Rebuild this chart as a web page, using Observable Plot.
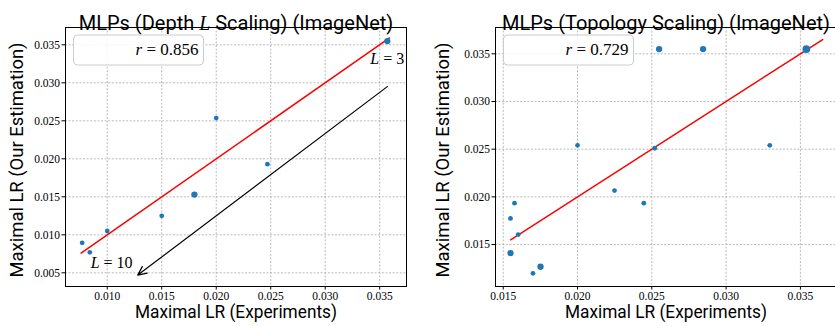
<!DOCTYPE html>
<html><head><meta charset="utf-8">
<script src="https://cdn.jsdelivr.net/npm/d3@7"></script>
<script src="https://cdn.jsdelivr.net/npm/@observablehq/plot@0.6"></script>
<style>
body{margin:0;background:#fff;}
#wrap{position:relative;width:835px;height:326px;overflow:hidden;background:#fff;}
#wrap svg{position:absolute;top:0;overflow:visible;}
</style></head><body><div id="wrap"></div>
<script>
// ---- Depth L scaling panel ----
const depthExp = [0.0077, 0.0084, 0.0100, 0.0150, 0.0180, 0.0200, 0.0247, 0.0357];
const depthEst = [0.00895, 0.0077, 0.0105, 0.0125, 0.0153, 0.02536, 0.0193, 0.0355];
const depthCount = [1, 1, 1, 1, 2, 1, 1, 2];
const depthFitX = [0.0076, 0.0359];
const depthArrowFrom = [0.0357, 0.0295];
const depthArrowTo = [0.0128, 0.0047];
const depthNotes = [{x: 0.0357, y: 0.0332, t: "*L* = 3"}, {x: 0.0104, y: 0.0063, t: "*L* = 10"}];
const depthR = "*r* = 0.856";
const depthXTicks = [0.010, 0.015, 0.020, 0.025, 0.030, 0.035];
const depthYTicks = [0.005, 0.010, 0.015, 0.020, 0.025, 0.030, 0.035];

// ---- Topology scaling panel ----
const topoExp = [0.02549, 0.02845, 0.0354, 0.0200, 0.0252, 0.03294, 0.02249, 0.02446, 0.01576, 0.01549, 0.01601, 0.01549, 0.01751, 0.0170];
const topoEst = [0.0355, 0.0355, 0.0355, 0.0254, 0.0251, 0.0254, 0.02066, 0.01934, 0.01934, 0.01774, 0.01604, 0.0141, 0.01267, 0.01198];
const topoCount = [2, 2, 3, 1, 1, 1, 1, 1, 1, 1, 1, 2, 2, 1];
const topoFitX = [0.0155, 0.0365];
const topoR = "*r* = 0.729";
const topoXTicks = [0.015, 0.020, 0.025, 0.030, 0.035];
const topoYTicks = [0.015, 0.020, 0.025, 0.030, 0.035];

const xLabel = "Maximal LR (Experiments)";
const yLabel = "Maximal LR (Our Estimation)";

const SANS = "Roboto, 'DejaVu Sans', sans-serif";
const SERIF = "'Liberation Serif', 'DejaVu Serif', serif";
const fmt = d3.format(".3f");

function panel(o) {
  const pts = o.xs.map((x, i) => ({x, y: o.ys[i], n: o.ns[i]}));
  const fit = o.fitX.map(v => ({x: v, y: v}));
  const grid = {stroke: "#a8a8a8", strokeOpacity: 1, strokeWidth: 0.8, strokeDasharray: "2,1.6"};
  const marks = [
    Plot.gridX(o.xTicks, grid),
    Plot.gridY(o.yTicks, grid),
    Plot.axisX(o.xTicks, {tickSize: 3.5, tickPadding: 1.5, tickFormat: fmt, fontSize: 11.5, fontFamily: SERIF, label: null}),
    Plot.axisY(o.yTicks, {tickSize: 3.5, tickPadding: 2, tickFormat: fmt, fontSize: 11.5, fontFamily: SERIF, label: null}),
    Plot.line(fit, {x: "x", y: "y", stroke: "red", strokeWidth: 1.5}),
    Plot.dot(pts, {x: "x", y: "y", r: "n", fill: "#1f77b4", stroke: "none"})
  ];
  if (o.arrow) marks.push(Plot.arrow([{x1: o.arrow[0][0], y1: o.arrow[0][1], x2: o.arrow[1][0], y2: o.arrow[1][1]}],
    {x1: "x1", y1: "y1", x2: "x2", y2: "y2", stroke: "black", strokeWidth: 1.2, headLength: 12, headAngle: 50}));
  if (o.notes) marks.push(Plot.text(o.notes, {x: "x", y: "y", text: "t", fontSize: 16, fontFamily: SERIF, fill: "black"}));
  marks.push(
    Plot.frame({stroke: "black", strokeWidth: 1}),
    Plot.text([o.title], {frameAnchor: "top", dy: -11.5, fontSize: 20, fontFamily: SANS, fill: "black"}),
    Plot.text([xLabel], {frameAnchor: "bottom", dy: 31, textAnchor: "middle", fontSize: 18, fontFamily: SANS, fill: "black"}),
    Plot.text([yLabel], {frameAnchor: "left", dx: o.yLabelDx, dy: 3, rotate: -90, textAnchor: "middle", fontSize: 18.5, fontFamily: SANS, fill: "black"}),
    Plot.text([o.rText], {frameAnchor: "top-left", dx: 133, dy: 15, textAnchor: "end", fontSize: 17, fontFamily: SERIF, fill: "black"})
  );
  const svg = Plot.plot({
    width: o.width, height: 326,
    marginLeft: o.marginLeft, marginRight: o.marginRight, marginTop: 27, marginBottom: 40,
    x: {domain: o.xDomain},
    y: {domain: o.yDomain},
    r: {type: "linear", domain: [1, 3], range: [2.4, 3.9]},
    style: {background: "white", color: "black", overflow: "visible"},
    marks
  });
  svg.style.left = o.left + "px";
  const texts = [...svg.querySelectorAll("text")];
  texts.forEach(t => {
    if (t.textContent === xLabel) { t.setAttribute("textLength", 202); t.setAttribute("lengthAdjust", "spacingAndGlyphs"); }
    if (t.textContent === yLabel) { t.setAttribute("textLength", 235); t.setAttribute("lengthAdjust", "spacingAndGlyphs"); }
  });
  const rt = texts.find(t => t.textContent === o.rText);
  if (rt) {
    const g = rt.closest("g");
    const rect = document.createElementNS("http://www.w3.org/2000/svg", "rect");
    rect.setAttribute("x", o.marginLeft + 8.5);
    rect.setAttribute("y", 27 + 8);
    rect.setAttribute("width", 130);
    rect.setAttribute("height", 30);
    rect.setAttribute("rx", 4);
    rect.setAttribute("fill", "white");
    rect.setAttribute("fill-opacity", 0.85);
    rect.setAttribute("stroke", "#cccccc");
    rect.setAttribute("stroke-width", 1);
    g.parentNode.insertBefore(rect, g);
  }
  svg.querySelectorAll("text").forEach(t => {
    const s = t.textContent;
    if (!/\*[^*]+\*/.test(s) && !/ L /.test(s)) return;
    const parts = s.includes("*") ? s.split(/\*([^*]+)\*/) : s.split(/ (L) /).map((p, i) => i % 2 ? p : (i === 0 ? p + " " : " " + p));
    t.textContent = "";
    parts.forEach((p, i) => {
      if (!p) return;
      const ts = document.createElementNS("http://www.w3.org/2000/svg", "tspan");
      ts.textContent = p;
      if (i % 2) { ts.setAttribute("font-style", "italic"); ts.setAttribute("font-family", SERIF); }
      t.appendChild(ts);
    });
  });
  return svg;
}

const wrap = document.getElementById("wrap");
wrap.appendChild(panel({
  xs: depthExp, ys: depthEst, ns: depthCount, fitX: depthFitX,
  arrow: [depthArrowFrom, depthArrowTo], notes: depthNotes, rText: depthR,
  xTicks: depthXTicks, yTicks: depthYTicks,
  xDomain: [0.00617, 0.03746], yDomain: [0.0032, 0.03728],
  title: "MLPs (Depth L Scaling) (ImageNet)",
  width: 420, marginLeft: 65, marginRight: 14, left: 0, yLabelDx: -48.7
}));
wrap.appendChild(panel({
  xs: topoExp, ys: topoEst, ns: topoCount, fitX: topoFitX, rText: topoR,
  xTicks: topoXTicks, yTicks: topoYTicks,
  xDomain: [0.01448, 0.03743], yDomain: [0.0106, 0.03776],
  title: "MLPs (Topology Scaling) (ImageNet)",
  width: 430, marginLeft: 75, marginRight: 14, left: 420, yLabelDx: -52
}));
</script></body></html>
